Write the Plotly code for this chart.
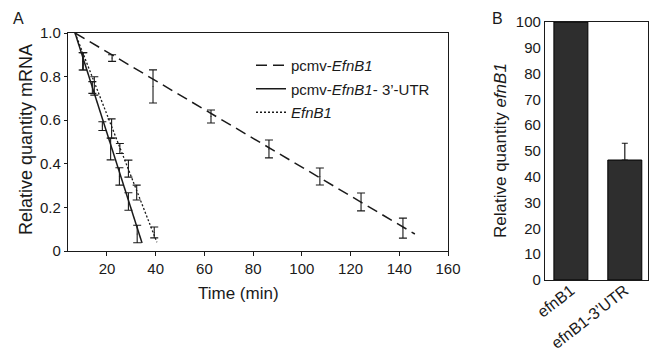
import plotly.graph_objects as go

# ---- Panel A data: mRNA decay (time in min, relative quantity) ----
dash_t = [22.1, 38.9, 62.7, 86.5, 107.4, 124.3, 141.5]
dash_y = [0.885, 0.755, 0.617, 0.468, 0.342, 0.225, 0.105]
dash_e = [0.015, 0.076, 0.030, 0.041, 0.039, 0.041, 0.046]
dash_fit_t = [6.9, 146.4]
dash_fit_y = [1.0, 0.078]

solid_t = [10.0, 14.0, 18.1, 21.5, 25.1, 28.8, 32.4]
solid_y = [0.870, 0.750, 0.573, 0.468, 0.342, 0.227, 0.078]
solid_e = [0.040, 0.027, 0.020, 0.050, 0.040, 0.040, 0.040]
solid_fit_t = [6.9, 34.4]
solid_fit_y = [1.0, 0.037]

dot_t = [10.3, 14.8, 21.9, 25.3, 28.8, 32.2, 39.4]
dot_y = [0.870, 0.757, 0.562, 0.470, 0.378, 0.268, 0.085]
dot_e = [0.040, 0.042, 0.044, 0.023, 0.039, 0.034, 0.025]
dot_fit_t = [6.9, 40.5]
dot_fit_y = [1.0, 0.040]

x_ticks_A = [20, 40, 60, 80, 100, 120, 140, 160]
y_ticks_A = [0, 0.2, 0.4, 0.6, 0.8, 1.0]
y_ticklabels_A = ["0", "0.2", "0.4", "0.6", "0.8", "1.0"]

# ---- Panel B data ----
bar_cats = ["efnB1", "efnB1-3’UTR"]
bar_labels = ["efnB1", "efnB1-3’UTR"]
bar_vals = [100, 46.5]
bar_err = [0, 6.5]
y_ticks_B = [0, 10, 20, 30, 40, 50, 60, 70, 80, 90, 100]

FONT = "Liberation Sans, Arial, sans-serif"
INK = "#1a1a1a"
W, H = 650, 356

def px(x):
    return x / W

def py(y):
    return 1 - y / H

fig = go.Figure()

# fitted lines (legend entries)
fig.add_trace(go.Scatter(x=dash_fit_t, y=dash_fit_y, mode="lines",
                         line=dict(color=INK, width=1.5, dash="11px,6px"),
                         name="pcmv-<i>EfnB1</i>", legendgroup="a",
                         xaxis="x", yaxis="y"))
fig.add_trace(go.Scatter(x=solid_fit_t, y=solid_fit_y, mode="lines",
                         line=dict(color=INK, width=1.5),
                         name="pcmv-<i>EfnB1</i>- 3’-UTR", legendgroup="b",
                         xaxis="x", yaxis="y"))
fig.add_trace(go.Scatter(x=dot_fit_t, y=dot_fit_y, mode="lines",
                         line=dict(color=INK, width=1.3, dash="2px,2px"),
                         name="<i>EfnB1</i>", legendgroup="c",
                         xaxis="x", yaxis="y"))

# error bars at measured points
for t, yv, e in [(dash_t, dash_y, dash_e), (solid_t, solid_y, solid_e), (dot_t, dot_y, dot_e)]:
    fig.add_trace(go.Scatter(x=t, y=yv, mode="markers",
                             marker=dict(size=1, color=INK),
                             error_y=dict(type="data", array=e, color=INK,
                                          thickness=1.1, width=4),
                             showlegend=False, xaxis="x", yaxis="y"))

# Panel B bars
fig.add_trace(go.Bar(x=bar_cats, y=bar_vals, width=0.63,
                     marker=dict(color="#2e2e2e", line=dict(color="#000", width=1)),
                     error_y=dict(type="data", array=bar_err,
                                  arrayminus=[0, 0], color=INK,
                                  thickness=1.2, width=3),
                     showlegend=False, xaxis="x2", yaxis="y2"))

axis_common = dict(showline=True, linecolor=INK, linewidth=1.2, mirror=True,
                   showgrid=False, zeroline=False,
                   tickfont=dict(family=FONT, size=15, color=INK),
                   automargin=False)

fig.update_layout(
    width=W, height=H,
    margin=dict(l=0, r=0, t=0, b=0),
    paper_bgcolor="white", plot_bgcolor="white",
    font=dict(family=FONT, color=INK),
    showlegend=True,
    legend=dict(x=px(251), y=py(49), xanchor="left", yanchor="top",
                bgcolor="rgba(0,0,0,0)", borderwidth=0,
                font=dict(family=FONT, size=15, color=INK),
                tracegroupgap=1, itemwidth=30),
    xaxis=dict(domain=[px(68), px(448)], range=[4, 160],
               tickvals=x_ticks_A, ticks="outside", ticklen=4,
               tickcolor=INK, anchor="y", **axis_common),
    yaxis=dict(domain=[py(251), py(33)], range=[0, 1.0],
               tickvals=y_ticks_A, ticktext=y_ticklabels_A,
               ticks="outside", ticklen=3, tickcolor=INK,
               anchor="x", **axis_common),
    xaxis2=dict(domain=[px(545), px(648)], range=[-0.48, 1.43],
                tickvals=bar_cats, ticktext=bar_labels, tickangle=-38,
                ticks="", ticklabelstandoff=-6, anchor="y2", **{**axis_common,
                "tickfont": dict(family=FONT, size=16, color=INK)}),
    yaxis2=dict(domain=[py(280), py(22)], range=[0, 100],
                tickvals=y_ticks_B, ticks="", anchor="x2", **axis_common),
    bargap=0.3,
)

ann = [
    dict(text="A", x=px(18), y=py(18), size=16, angle=0),
    dict(text="B", x=px(497), y=py(18), size=16, angle=0),
    dict(text="Time (min)", x=px(238), y=py(293), size=17, angle=0),
    dict(text="Relative quantity mRNA", x=px(26), y=py(140), size=18, angle=-90),
    dict(text="Relative quantity <i>efnB1</i>", x=px(500), y=py(151), size=17, angle=-90),
]
for a in ann:
    fig.add_annotation(text=a["text"], x=a["x"], y=a["y"], xref="paper", yref="paper",
                       xanchor="center", yanchor="middle", showarrow=False,
                       textangle=a["angle"],
                       font=dict(family=FONT, size=a["size"], color=INK))

fig.write_html("out.html")
